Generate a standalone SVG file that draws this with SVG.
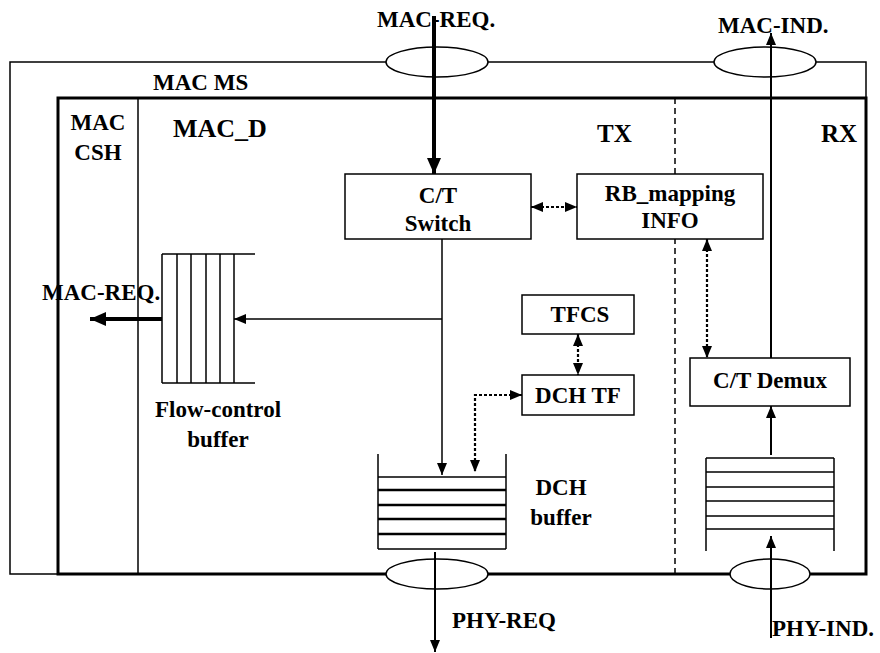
<svg xmlns="http://www.w3.org/2000/svg" width="880" height="653" viewBox="0 0 880 653">
<defs>
<style>
text{font-family:"Liberation Serif","Times New Roman",serif;font-weight:bold;font-size:23px;fill:#000}
.c{text-anchor:middle}
.box{fill:#fff;stroke:#000;stroke-width:1.5}
.thin{fill:none;stroke:#000;stroke-width:1.5}
.ell{fill:#fff;stroke:#000;stroke-width:1.5}
.dot{fill:none;stroke:#000;stroke-width:2.2;stroke-dasharray:3,2}
</style>
<marker id="ah" markerUnits="userSpaceOnUse" markerWidth="12" markerHeight="10" refX="12" refY="5" orient="auto-start-reverse"><path d="M0,0 L12,5 L0,10 z" fill="#000"/></marker>
<marker id="ahb" markerUnits="userSpaceOnUse" markerWidth="16" markerHeight="14" refX="16" refY="7" orient="auto"><path d="M0,0 L16,7 L0,14 z" fill="#000"/></marker>
</defs>
<rect width="880" height="653" fill="#fff"/>

<g id="mac-ms">
<path class="thin" d="M58,574 H10 V62 H866 V98"/>
<text x="153" y="90">MAC MS</text>
</g>
<g id="mac-d-frame">
<rect x="58" y="98" width="808" height="476" fill="none" stroke="#000" stroke-width="3"/>
<line x1="138" y1="98" x2="138" y2="574" stroke="#000" stroke-width="1.5"/>
<line x1="675" y1="98" x2="675" y2="574" stroke="#000" stroke-width="1.5" stroke-dasharray="6,4"/>
<text class="c" x="98" y="130">MAC</text>
<text class="c" x="98" y="160">CSH</text>
<text x="173" y="137" style="font-size:26px">MAC_D</text>
<text x="597" y="142" style="font-size:25px">TX</text>
<text x="821" y="142" style="font-size:25px">RX</text>
</g>
<g id="sap-top-req"><ellipse class="ell" cx="437" cy="62" rx="51" ry="15"/></g>
<g id="sap-top-ind"><ellipse class="ell" cx="765" cy="62" rx="51" ry="15"/></g>
<g id="sap-bot-req"><ellipse class="ell" cx="437" cy="574" rx="51" ry="15"/></g>
<g id="sap-bot-ind"><ellipse class="ell" cx="770" cy="574" rx="40" ry="15"/></g>

<g id="ct-switch">
<rect class="box" x="345" y="174" width="186" height="65"/>
<text class="c" x="438" y="203">C/T</text>
<text class="c" x="438" y="231">Switch</text>
</g>
<g id="rb-mapping">
<rect class="box" x="577" y="174" width="186" height="65"/>
<text class="c" x="670" y="201">RB_mapping</text>
<text class="c" x="670" y="228">INFO</text>
</g>
<g id="tfcs">
<rect class="box" x="522" y="295" width="112" height="39"/>
<text class="c" x="580" y="322">TFCS</text>
</g>
<g id="dch-tf">
<rect class="box" x="522" y="375" width="112" height="40"/>
<text class="c" x="578" y="403">DCH TF</text>
</g>
<g id="ct-demux">
<rect class="box" x="690" y="358" width="160" height="48"/>
<text class="c" x="770" y="388">C/T Demux</text>
</g>
<g id="flow-buffer">
<path class="thin" d="M162,254 H255 M162,383 H255 M162,254 V383 M177,254 V383 M191,254 V383 M206,254 V383 M220,254 V383 M234,254 V383"/>
<text class="c" x="218" y="417">Flow-control</text>
<text class="c" x="218" y="447">buffer</text>
</g>
<g id="dch-buffer">
<path class="thin" d="M378,454 V549 M506,454 V549 M378,477 H506 M378,549 H506"/>
<path fill="none" stroke="#000" stroke-width="2.5" d="M378,490 H506 M378,505 H506 M378,519 H506 M378,534 H506"/>
<text class="c" x="561" y="495">DCH</text>
<text class="c" x="561" y="525">buffer</text>
</g>
<g id="rx-buffer">
<path class="thin" d="M706,458 V551 M834,458 V551 M706,458 H834 M706,472 H834 M706,487 H834 M706,501 H834 M706,516 H834 M706,529 H834"/>
</g>

<g id="connectors">
<line x1="434" y1="16" x2="434" y2="174" stroke="#000" stroke-width="4" marker-end="url(#ahb)"/>
<line x1="771" y1="358" x2="771" y2="33" stroke="#000" stroke-width="2" marker-end="url(#ah)"/>
<path class="thin" d="M442,239 V475" marker-end="url(#ah)"/>
<path class="thin" d="M442,319 H234" marker-end="url(#ah)"/>
<line x1="162" y1="319" x2="90" y2="319" stroke="#000" stroke-width="4" marker-end="url(#ahb)"/>
<path class="dot" d="M531,207 H577" marker-start="url(#ah)" marker-end="url(#ah)"/>
<path class="dot" d="M707,239 V358" marker-start="url(#ah)" marker-end="url(#ah)"/>
<path class="dot" d="M578,334 V375" marker-start="url(#ah)" marker-end="url(#ah)"/>
<path class="dot" d="M522,395 H475 V472" marker-start="url(#ah)" marker-end="url(#ah)"/>
<line x1="435" y1="552" x2="435" y2="652" stroke="#000" stroke-width="2" marker-end="url(#ah)"/>
<line x1="771" y1="638" x2="771" y2="536" stroke="#000" stroke-width="2" marker-end="url(#ah)"/>
<line x1="771" y1="455" x2="771" y2="406" stroke="#000" stroke-width="2" marker-end="url(#ah)"/>
</g>

<g id="labels">
<text x="377" y="27">MAC-REQ.</text>
<text x="718" y="33">MAC-IND.</text>
<text x="42" y="300">MAC-REQ.</text>
<text x="452" y="628">PHY-REQ</text>
<text x="772" y="636">PHY-IND.</text>
</g>
</svg>
